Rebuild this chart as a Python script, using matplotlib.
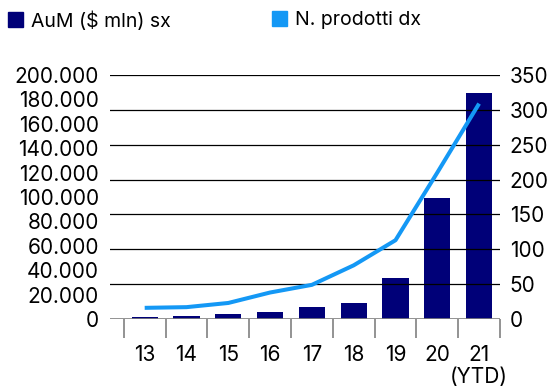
import matplotlib
matplotlib.use("Agg")
import matplotlib.pyplot as plt
from matplotlib.patches import Patch
from matplotlib.ticker import FuncFormatter

years = ["13", "14", "15", "16", "17", "18", "19", "20", "21\n(YTD)"]
aum = [1400, 2800, 4100, 6000, 10100, 13400, 33600, 99500, 185600]
prodotti = [16, 17, 23, 38, 49, 77, 113, 210, 309]

navy = "#000078"
azzurro = "#1498F5"

plt.rcParams["font.family"] = ["Inter", "DejaVu Sans"]
plt.rcParams["font.size"] = 15

fig = plt.figure(figsize=(5.52, 3.90), dpi=100)
ax = fig.add_axes([110/552, 1 - 319/390, 390/552, 244/390])
ax2 = ax.twinx()

x = list(range(len(years)))
ax.bar(x, aum, width=0.63, color=navy, zorder=3)
ax2.plot(x, prodotti, color=azzurro, lw=2.9, zorder=4, solid_capstyle="butt")

ax.set_ylim(0, 200000)
ax2.set_ylim(0, 350)
ax.set_xlim(-0.83, 8.45)

# griglia presa dall'asse destro
for v in range(50, 351, 50):
    ax2.axhline(v, color="black", lw=0.9, zorder=1)
ax2.axhline(0, color="#808080", lw=1.2, zorder=1)

ax.set_yticks(range(0, 200001, 20000))
ax.yaxis.set_major_formatter(FuncFormatter(lambda v, p: f"{int(v):,}".replace(",", ".")))
ax2.set_yticks(range(0, 351, 50))

ax.set_xticks(x)
ax.set_xticklabels(years, linespacing=1.1)
ax.set_xticks([i - 0.5 for i in range(len(years) + 1)], minor=True)
ax.tick_params(axis="x", which="major", length=0, pad=19)
ax.tick_params(axis="x", which="minor", length=14, width=1.2, color="#808080", direction="out")
ax.tick_params(axis="y", length=0, pad=8)
ax2.tick_params(axis="y", length=0, pad=7)

for a in (ax, ax2):
    for s in a.spines.values():
        s.set_visible(False)
ax2.patch.set_visible(False)

# legenda: due voci messe a mano
for col, lab, xa in [(navy, "AuM ($ mln) sx", 8/552), (azzurro, "N. prodotti dx", 272/552)]:
    fig.legend(handles=[Patch(color=col, label=lab)], loc="upper left",
               bbox_to_anchor=(xa, 1 - 11/390), borderaxespad=0, borderpad=0,
               frameon=False, handlelength=0.78, handleheight=0.78, handletextpad=0.4,
               fontsize=14)

fig.savefig("out.png", dpi=100)
